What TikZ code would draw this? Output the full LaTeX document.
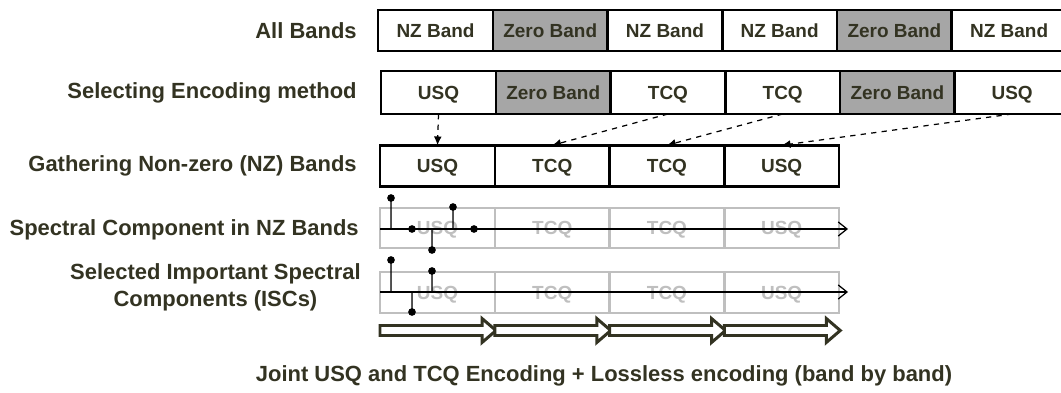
\documentclass[tikz,border=0pt]{standalone}
\usepackage{fontspec}
\setmainfont{Liberation Sans}
\usetikzlibrary{arrows.meta, positioning}
\definecolor{ink}{RGB}{51,51,34}
\definecolor{zerofill}{RGB}{166,166,166}
\definecolor{faint}{RGB}{191,191,191}

\begin{document}
\begin{tikzpicture}[x=0.02cm, y=-0.02cm,
    band/.style={draw, line width=1.5pt, rectangle, inner sep=0pt, outer sep=0pt, minimum width=2.295cm, minimum height=0.83cm, text height=7.7pt, text depth=0pt, text=ink, font=\fontsize{10.8}{13}\selectfont\bfseries},
    zero/.style={band, fill=zerofill},
    ghost/.style={band, draw=faint, text=faint, minimum height=0.8cm},
    lbl/.style={anchor=east, inner sep=0pt, text=ink, align=center, font=\fontsize{12.5}{15.3}\selectfont\bfseries},
    sel/.style={-{Latex[length=5pt,width=4.5pt]}, dashed, line width=0.7pt},
    axis/.style={-{Straight Barb[length=5pt,width=8pt]}, line width=0.7pt},
    stem/.style={line width=0.7pt},
    flow/.style={draw=ink, fill=white, line width=1.7pt, line join=miter}]
    \useasboundingbox (0,0) rectangle (1061,392);

    \node[lbl] (la) at (357,30.5) {All Bands};
    \node[lbl] (lb) at (357,92.5) {Selecting Encoding method};
    \node[lbl] (lc) at (357,166) {Gathering Non-zero (NZ) Bands};
    \node[lbl] (ld) at (359,230) {Spectral Component in NZ Bands};
    \node[lbl] (le) at (361,287) {Selected Important Spectral\\Components (ISCs)};

    \node[band, minimum height=0.82cm] (a1) at (435.5,30.5) {NZ Band};
    \node[zero, minimum height=0.82cm, right=0pt of a1] (a2) {Zero Band};
    \node[band, minimum height=0.82cm, right=0pt of a2] (a3) {NZ Band};
    \node[band, minimum height=0.82cm, right=0pt of a3] (a4) {NZ Band};
    \node[zero, minimum height=0.82cm, right=0pt of a4] (a5) {Zero Band};
    \node[band, minimum height=0.82cm, right=0pt of a5] (a6) {NZ Band};

    \node[band, minimum height=0.86cm] (b1) at (438.5,92.5) {USQ};
    \node[zero, minimum height=0.86cm, right=0pt of b1] (b2) {Zero Band};
    \node[band, minimum height=0.86cm, right=0pt of b2] (b3) {TCQ};
    \node[band, minimum height=0.86cm, right=0pt of b3] (b4) {TCQ};
    \node[zero, minimum height=0.86cm, right=0pt of b4] (b5) {Zero Band};
    \node[band, minimum height=0.86cm, right=0pt of b5] (b6) {USQ};

    \node[band] (g1) at (437.5,166) {USQ};
    \node[band, right=0pt of g1] (g2) {TCQ};
    \node[band, right=0pt of g2] (g3) {TCQ};
    \node[band, right=0pt of g3] (g4) {USQ};

    \draw[sel] (b1.south) -- (g1.north);
    \draw[sel] (b3.south) -- (g2.north);
    \draw[sel] (b4.south) -- (g3.north);
    \draw[sel] (b6.south) -- (g4.north);

    \node[ghost] (s1) at (437.5,228) {USQ};
    \node[ghost, right=0pt of s1] (s2) {TCQ};
    \node[ghost, right=0pt of s2] (s3) {TCQ};
    \node[ghost, right=0pt of s3] (s4) {USQ};

    \node[ghost, minimum height=0.82cm] (i1) at (437.5,292.5) {USQ};
    \node[ghost, minimum height=0.82cm, right=0pt of i1] (i2) {TCQ};
    \node[ghost, minimum height=0.82cm, right=0pt of i2] (i3) {TCQ};
    \node[ghost, minimum height=0.82cm, right=0pt of i3] (i4) {USQ};

    \draw[axis] (380,229) -- (848,229);
    \filldraw[stem] (391,229) -- (391,198) circle (1.8pt);
    \filldraw[stem] (412,229) circle (1.8pt);
    \filldraw[stem] (432,229) -- (432,250) circle (1.8pt);
    \filldraw[stem] (453,229) -- (453,207) circle (1.8pt);
    \filldraw[stem] (474,229) circle (1.8pt);

    \draw[axis] (380,292) -- (848,292);
    \filldraw[stem] (391,292) -- (391,260) circle (1.8pt);
    \filldraw[stem] (412,292) -- (412,312) circle (1.8pt);
    \filldraw[stem] (432,292) -- (432,271) circle (1.8pt);

    \draw[flow] (380,325.5) -- ++(102,0) -- ++(0,-7) -- ++(14,12) -- ++(-14,12) -- ++(0,-7) -- ++(-102,0) -- cycle;
    \draw[flow] (494.75,325.5) -- ++(102,0) -- ++(0,-7) -- ++(14,12) -- ++(-14,12) -- ++(0,-7) -- ++(-102,0) -- cycle;
    \draw[flow] (609.5,325.5) -- ++(102,0) -- ++(0,-7) -- ++(14,12) -- ++(-14,12) -- ++(0,-7) -- ++(-102,0) -- cycle;
    \draw[flow] (724.25,325.5) -- ++(102,0) -- ++(0,-7) -- ++(14,12) -- ++(-14,12) -- ++(0,-7) -- ++(-102,0) -- cycle;

    \node[text=ink, font=\fontsize{12.5}{15}\selectfont\bfseries] (jt) at (604,376) {Joint USQ and TCQ Encoding + Lossless encoding (band by band)};
\end{tikzpicture}
\end{document}
